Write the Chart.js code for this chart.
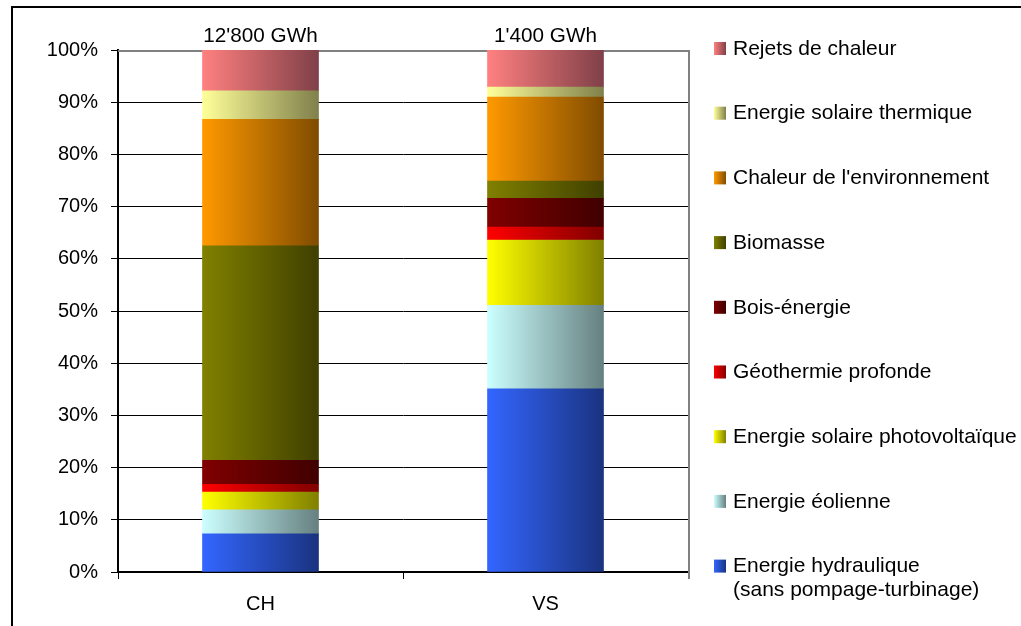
<!DOCTYPE html>
<html><head><meta charset="utf-8">
<script src="https://cdn.jsdelivr.net/npm/chart.js@4.4.1/dist/chart.umd.min.js"></script>
<style>html,body{margin:0;padding:0;background:#fff;} canvas{display:block;}</style>
</head><body>
<canvas id="c" width="1021" height="626"></canvas>
<script>
// ---- data ----
const categories = ['CH', 'VS'];
const totals = ["12'800 GWh", "1'400 GWh"];
const yTicks = [0, 10, 20, 30, 40, 50, 60, 70, 80, 90, 100];

// series (bottom of stack to top), values in % of total
const hydraulique   = [7.3, 35.1];
const eolienne      = [4.6, 16.0];
const photovoltaique= [3.4, 12.5];
const geothermie    = [1.5, 2.5];
const boisEnergie   = [4.6, 5.5];
const biomasse      = [41.1, 3.3];
const chaleurEnv    = [24.2, 16.1];
const solaireTherm  = [5.5, 1.9];
const rejets        = [7.8, 7.1];

const seriesLabels = [
  'Energie hydraulique\n(sans pompage-turbinage)',
  'Energie éolienne',
  'Energie solaire photovoltaïque',
  'Géothermie profonde',
  'Bois-énergie',
  'Biomasse',
  "Chaleur de l'environnement",
  'Energie solaire thermique',
  'Rejets de chaleur'
];
const seriesValues = [hydraulique, eolienne, photovoltaique, geothermie, boisEnergie, biomasse, chaleurEnv, solaireTherm, rejets];
const colorsLight = ['#3366FF', '#CCFFFF', '#FFFF00', '#FF0000', '#800000', '#808000', '#FF9900', '#FFFF99', '#FF8080'];
const colorsDark  = ['#1A3380', '#668080', '#808000', '#800000', '#400000', '#404000', '#804C00', '#80804C', '#804048'];

// ---- style ----
const FONT_FAMILY = "'Liberation Sans', Arial, sans-serif";
const FONT_SIZE = 20;
const LEGEND_FONT_SIZE = 21;
const BAR_W = 116;

function barGradient(context, i) {
  const chart = context.chart;
  const xs = chart.scales && chart.scales.x;
  if (!chart.chartArea || !xs || context.dataIndex === undefined) return colorsLight[i];
  const cx = xs.getPixelForValue(context.dataIndex);
  const g = chart.ctx.createLinearGradient(cx - BAR_W / 2, 0, cx + BAR_W / 2, 0);
  g.addColorStop(0, colorsLight[i]);
  g.addColorStop(1, colorsDark[i]);
  return g;
}

const datasets = seriesValues.map((vals, i) => ({
  label: seriesLabels[i],
  data: vals,
  backgroundColor: (ctx) => barGradient(ctx, i),
  borderWidth: 0,
  barThickness: BAR_W
}));

const framePlugin = {
  id: 'frame',
  beforeDraw(chart) {
    const ctx = chart.ctx;
    ctx.save();
    ctx.fillStyle = '#fff';
    ctx.fillRect(0, 0, chart.width, chart.height);
    ctx.fillStyle = '#000';
    ctx.fillRect(11, 6, 2, chart.height - 6);
    ctx.fillRect(11, 6, chart.width - 11, 2);
    ctx.restore();
  },
  beforeDatasetsDraw(chart) {
    const a = chart.chartArea, ctx = chart.ctx;
    ctx.save();
    ctx.strokeStyle = '#808080';
    ctx.lineWidth = 2;
    ctx.beginPath();
    ctx.moveTo(a.left, a.top + 1);
    ctx.lineTo(a.right + 1, a.top + 1);
    ctx.lineTo(a.right + 1, a.bottom + 7);
    ctx.stroke();
    ctx.restore();
  }
};

const totalsPlugin = {
  id: 'totals',
  afterDatasetsDraw(chart) {
    const ctx = chart.ctx, xs = chart.scales.x, ys = chart.scales.y;
    ctx.save();
    ctx.font = '20.7px ' + FONT_FAMILY;
    ctx.fillStyle = '#000';
    ctx.textAlign = 'center';
    ctx.textBaseline = 'middle';
    totals.forEach((t, i) => {
      ctx.fillText(t, xs.getPixelForValue(i), ys.getPixelForValue(100) - 14);
    });
    ctx.restore();
  }
};

const legendPlugin = {
  id: 'customLegend',
  afterDraw(chart) {
    const ctx = chart.ctx;
    const x0 = 714, y0 = 48, step = 64.7, lineH = 24;
    ctx.save();
    ctx.font = LEGEND_FONT_SIZE + 'px ' + FONT_FAMILY;
    ctx.textBaseline = 'middle';
    ctx.textAlign = 'left';
    for (let k = 0; k < seriesLabels.length; k++) {
      const i = seriesLabels.length - 1 - k;
      const y = y0 + k * step;
      const g = ctx.createLinearGradient(x0, 0, x0 + 12, 0);
      g.addColorStop(0, colorsLight[i]);
      g.addColorStop(1, colorsDark[i]);
      ctx.fillStyle = g;
      ctx.fillRect(x0, y - 6, 12, 13);
      ctx.fillStyle = '#000';
      seriesLabels[i].split('\n').forEach((line, j) => {
        ctx.fillText(line, 733, y + 1 + j * lineH);
      });
    }
    ctx.restore();
  }
};

new Chart(document.getElementById('c'), {
  type: 'bar',
  data: { labels: categories, datasets },
  plugins: [framePlugin, totalsPlugin, legendPlugin],
  options: {
    responsive: false,
    animation: false,
    layout: { padding: { left: 0, top: 50, right: 1021 - 688, bottom: 0 } },
    plugins: { legend: { display: false }, tooltip: { enabled: false } },
    scales: {
      x: {
        stacked: true,
        offset: true,
        grid: { display: true, drawOnChartArea: false, drawTicks: true, tickLength: 7, color: '#000', offset: true },
        border: { display: true, color: '#000', width: 2 },
        ticks: { color: '#000', font: { family: FONT_FAMILY, size: FONT_SIZE }, padding: 13 },
        afterFit(s) { s.height = 626 - 572; }
      },
      y: {
        stacked: true,
        min: 0, max: 100,
        afterBuildTicks(s) { s.ticks = yTicks.map(v => ({ value: v })); },
        grid: {
          color: (c) => (c.tick && c.tick.value === 100) ? 'rgba(0,0,0,0)' : '#000',
          tickColor: '#000',
          lineWidth: 1,
          tickLength: 7
        },
        border: { display: true, color: '#000', width: 2 },
        ticks: {
          color: '#000',
          font: { family: FONT_FAMILY, size: FONT_SIZE },
          padding: 13,
          callback: (v) => v + '%'
        },
        afterFit(s) { s.width = 118; }
      }
    }
  }
});
</script>
</body></html>
